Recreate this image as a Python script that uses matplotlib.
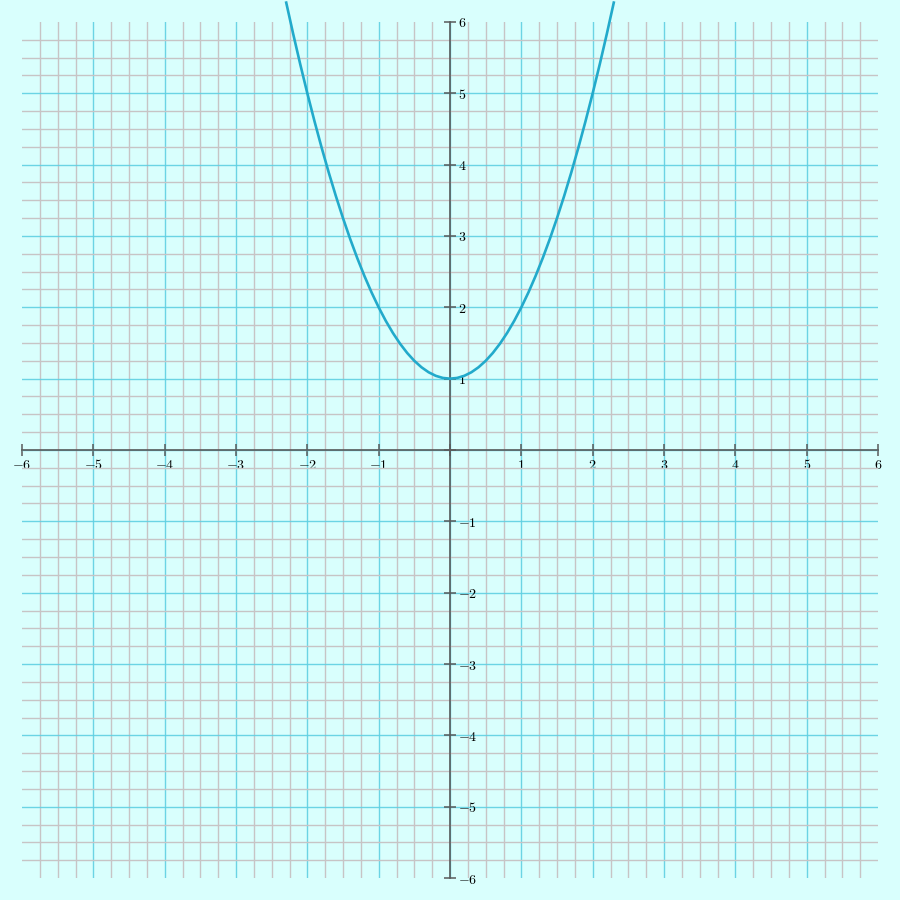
import numpy as np
import matplotlib
matplotlib.use('Agg')
import matplotlib.pyplot as plt
from matplotlib.ticker import MultipleLocator, FuncFormatter

plt.rcParams['mathtext.fontset'] = 'cm'

# points
xs = [-2.3, -2.2, -2.1, -2.0, -1.9, -1.8, -1.7, -1.6, -1.5, -1.4, -1.3, -1.2,
      -1.1, -1.0, -0.9, -0.8, -0.7, -0.6, -0.5, -0.4, -0.3, -0.2, -0.1, 0.0,
      0.1, 0.2, 0.3, 0.4, 0.5, 0.6, 0.7, 0.8, 0.9, 1.0, 1.1, 1.2, 1.3, 1.4,
      1.5, 1.6, 1.7, 1.8, 1.9, 2.0, 2.1, 2.2, 2.3]
ys = [6.29, 5.84, 5.41, 5.0, 4.61, 4.24, 3.89, 3.56, 3.25, 2.96, 2.69, 2.44,
      2.21, 2.0, 1.81, 1.64, 1.49, 1.36, 1.25, 1.16, 1.09, 1.04, 1.01, 1.0,
      1.01, 1.04, 1.09, 1.16, 1.25, 1.36, 1.49, 1.64, 1.81, 2.0, 2.21, 2.44,
      2.69, 2.96, 3.25, 3.56, 3.89, 4.24, 4.61, 5.0, 5.41, 5.84, 6.29]
xlim = (-6, 6)
ylim = (-6, 6)

bg = '#d9fffd'
fig = plt.figure(figsize=(9, 9), dpi=100, facecolor=bg)
ax = fig.add_axes([22/900, 22/900, 856/900, 856/900])
ax.set_facecolor(bg)

ax.plot(xs, ys, color='#22aacb', linewidth=1.9, clip_on=False, zorder=5,
        solid_capstyle='butt')

ax.set_xlim(*xlim)
ax.set_ylim(*ylim)

ax.spines['left'].set_visible(False)
ax.spines['top'].set_visible(False)
ax.spines['bottom'].set_position(('data', 0))
ax.spines['right'].set_position(('data', 0))
for s in ('bottom', 'right'):
    ax.spines[s].set_color('#5a5a5a')
    ax.spines[s].set_linewidth(1.2)
ax.yaxis.tick_right()
ax.xaxis.tick_bottom()

ax.xaxis.set_major_locator(MultipleLocator(1))
ax.yaxis.set_major_locator(MultipleLocator(1))
ax.xaxis.set_minor_locator(MultipleLocator(0.25))
ax.yaxis.set_minor_locator(MultipleLocator(0.25))

fmt = FuncFormatter(lambda v, p: '' if abs(v) < 1e-9 else r'$%d$' % round(v))
ax.xaxis.set_major_formatter(fmt)
ax.yaxis.set_major_formatter(fmt)

ax.tick_params(which='major', direction='inout', length=8, width=1.1,
               color='#5a5a5a', labelsize=10, pad=2)
ax.tick_params(which='minor', length=0)

ax.grid(which='major', color='#5fd0e2', linewidth=1.0, alpha=0.9)
ax.grid(which='minor', color='#c7c4c5', linewidth=1.0)
ax.set_axisbelow(True)

# hide grid lines lying on the frame edges
fig.canvas.draw()
for axis, lim in ((ax.xaxis, xlim), (ax.yaxis, ylim)):
    for t, loc in zip(axis.get_major_ticks(), axis.get_majorticklocs()):
        if abs(loc) >= 6 - 1e-9:
            t.gridline.set_visible(False)

fig.savefig('out.png', dpi=100, facecolor=bg)
